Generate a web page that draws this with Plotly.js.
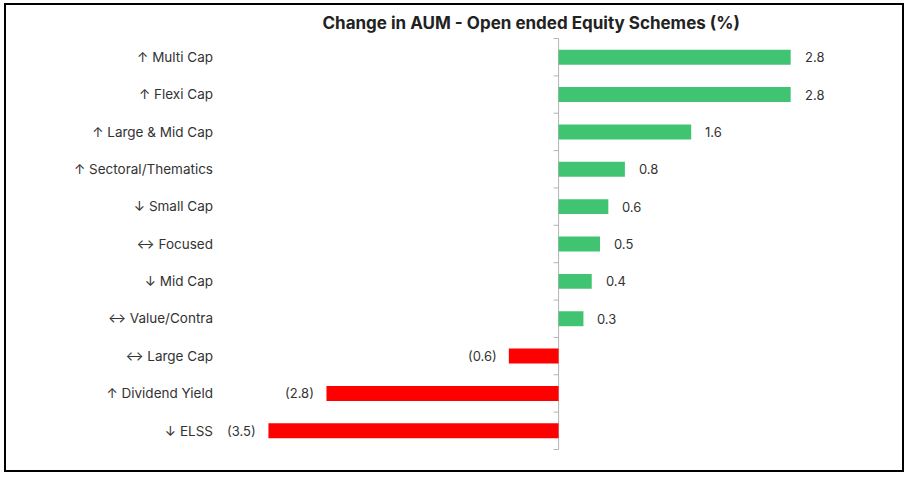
<!DOCTYPE html>
<html>
<head>
<meta charset="utf-8">
<script src="https://cdn.plot.ly/plotly-3.0.1.min.js"></script>
<style>
  html, body { margin: 0; padding: 0; background: #fff; }
  #wrap { position: relative; width: 908px; height: 478px; }
  #chart { width: 908px; height: 478px; }
  #frame { position: absolute; left: 4px; top: 3px; width: 900px; height: 469px;
           box-sizing: border-box; border: 2px solid #000; pointer-events: none; }
</style>
</head>
<body>
<div id="wrap"><div id="chart"></div><div id="frame"></div></div>
<script>
const categories = ["↑ Multi Cap", "↑ Flexi Cap", "↑ Large & Mid Cap", "↑ Sectoral/Thematics",
  "↓ Small Cap", "↔ Focused", "↓ Mid Cap", "↔ Value/Contra", "↔ Large Cap",
  "↑ Dividend Yield", "↓ ELSS"];
const values = [2.8, 2.8, 1.6, 0.8, 0.6, 0.5, 0.4, 0.3, -0.6, -2.8, -3.5];
const titleText = "Change in AUM - Open ended Equity Schemes (%)";

const GREEN = "#41c472", RED = "#fe0000", AXIS = "#b3b3b3";
const xRange = [-4.0, 3.6];
const fmt = v => v < 0 ? "(" + Math.abs(v).toFixed(1) + ")" : v.toFixed(1);
const FONT = "Inter, 'Open Sans', sans-serif";

const traces = [
  {
    type: "bar", orientation: "h", x: values, y: categories,
    marker: { color: values.map(v => v < 0 ? RED : GREEN) },
    hoverinfo: "skip"
  }
];

const annotations = values.map((v, i) => ({
  x: v, y: categories[i], xref: "x", yref: "y",
  text: fmt(v), showarrow: false,
  xanchor: v < 0 ? "right" : "left", xshift: v < 0 ? -10 : 12,
  font: { family: FONT, size: 13, color: "#333" }
}));

// category axis line at zero, with ticks on category boundaries
const shapes = [{
  type: "line", xref: "x", yref: "y", x0: 0, x1: 0,
  y0: -0.5, y1: categories.length - 0.5,
  line: { color: AXIS, width: 1 }, layer: "below"
}];
for (let i = 0; i <= categories.length; i++) {
  shapes.push({
    type: "line", xref: "x", yref: "y", xsizemode: "pixel", xanchor: 0,
    x0: -5, x1: 0, y0: i - 0.5, y1: i - 0.5,
    line: { color: AXIS, width: 1 }, layer: "below"
  });
}

const layout = {
  width: 908, height: 478,
  margin: { l: 227, r: 51, t: 38, b: 28, pad: 0 },
  paper_bgcolor: "#fff", plot_bgcolor: "#fff",
  showlegend: false,
  bargap: 0.6,
  title: {
    text: "<b>" + titleText + "</b>",
    x: 0.585, xref: "container", xanchor: "center",
    y: 0.952, yref: "container", yanchor: "middle",
    font: { family: FONT, size: 17, color: "#222" }
  },
  xaxis: {
    range: xRange, showgrid: false, zeroline: false, showline: false,
    showticklabels: false, ticks: "", fixedrange: true
  },
  yaxis: {
    type: "category", autorange: "reversed", showgrid: false, showline: false,
    ticks: "", ticklabelstandoff: 13,
    tickfont: { family: FONT, size: 13.5, color: "#333" }
  },
  shapes: shapes,
  annotations: annotations
};

Plotly.newPlot("chart", traces, layout, { displayModeBar: false, staticPlot: true });
</script>
</body>
</html>
